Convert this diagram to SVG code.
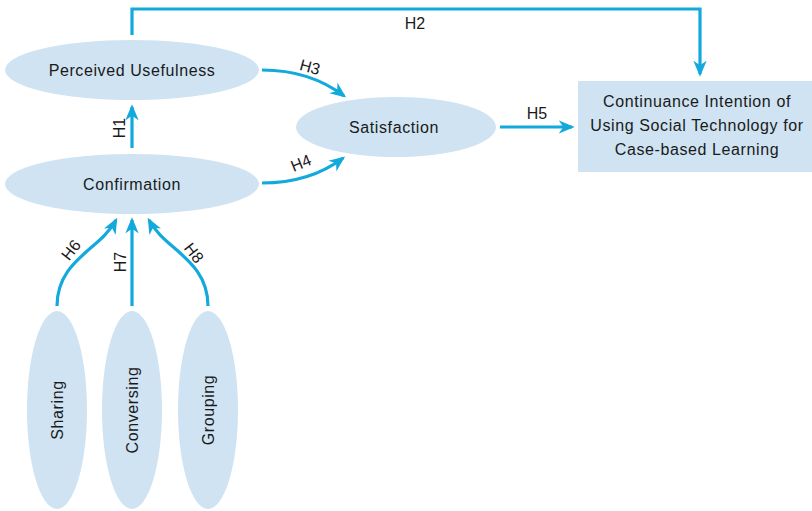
<svg xmlns="http://www.w3.org/2000/svg" width="812" height="511" viewBox="0 0 812 511">
<style>
.n{fill:#cfe3f2;}
.t{font-family:"Liberation Sans",Arial,sans-serif;font-size:16px;letter-spacing:0.6px;fill:#1a1a1a;text-anchor:middle;dominant-baseline:central;}
.c{fill:none;stroke:#12a9dc;stroke-width:3.2;}
.l{font-family:"Liberation Sans",Arial,sans-serif;font-size:16px;fill:#1a1a1a;text-anchor:middle;dominant-baseline:central;}
</style>
<defs>
<marker id="ah" viewBox="0 0 12 10" refX="10" refY="5" markerWidth="5" markerHeight="4.5" orient="auto" markerUnits="strokeWidth">
<path d="M0,0 L12,5 L0,10 L3.5,5 z" fill="#12a9dc"/>
</marker>
</defs>
<rect width="812" height="511" fill="#ffffff"/>
<g id="pu"><ellipse class="n" cx="132" cy="70" rx="127" ry="30"/><text class="t" x="132" y="70">Perceived  Usefulness</text></g>
<g id="conf"><ellipse class="n" cx="132" cy="184" rx="127" ry="30"/><text class="t" x="132" y="184">Confirmation</text></g>
<g id="sat"><ellipse class="n" cx="396" cy="127" rx="100" ry="30"/><text class="t" x="394" y="127">Satisfaction</text></g>
<g id="ci"><rect class="n" x="578" y="81" width="234" height="91"/>
<text class="t" x="697" y="101">Continuance Intention of</text>
<text class="t" x="697" y="125">Using Social Technology for</text>
<text class="t" x="697" y="149">Case-based  Learning</text></g>
<g id="sharing"><ellipse class="n" cx="57" cy="410" rx="30" ry="99"/><text class="t" transform="translate(57,410) rotate(-90)">Sharing</text></g>
<g id="conversing"><ellipse class="n" cx="132" cy="410" rx="30" ry="99"/><text class="t" transform="translate(132,410) rotate(-90)">Conversing</text></g>
<g id="grouping"><ellipse class="n" cx="208" cy="410" rx="30" ry="99"/><text class="t" transform="translate(208,410) rotate(-90)">Grouping</text></g>
<g id="connectors">
<path class="c" d="M132,35 L132,9 L700,9 L700,74" marker-end="url(#ah)"/>
<path class="c" d="M132,148 L132,107" marker-end="url(#ah)"/>
<path class="c" d="M262,70 Q310,70 344,96" marker-end="url(#ah)"/>
<path class="c" d="M262,183 Q310,183 343,158" marker-end="url(#ah)"/>
<path class="c" d="M500,127 L572,127" marker-end="url(#ah)"/>
<path class="c" d="M57,306 C57,260 100,250 116,220" marker-end="url(#ah)"/>
<path class="c" d="M132,306 L132,220" marker-end="url(#ah)"/>
<path class="c" d="M208,306 C208,260 165,250 149,220" marker-end="url(#ah)"/>
</g>
<g id="labels">
<text class="l" x="415" y="23">H2</text>
<text class="l" transform="translate(119,128) rotate(-90)">H1</text>
<text class="l" transform="translate(310,67) rotate(15)">H3</text>
<text class="l" transform="translate(301,163) rotate(-22)">H4</text>
<text class="l" x="537" y="113">H5</text>
<text class="l" transform="translate(71,250) rotate(-52)">H6</text>
<text class="l" transform="translate(120,262) rotate(-90)">H7</text>
<text class="l" transform="translate(194,253) rotate(52)">H8</text>
</g>
</svg>
